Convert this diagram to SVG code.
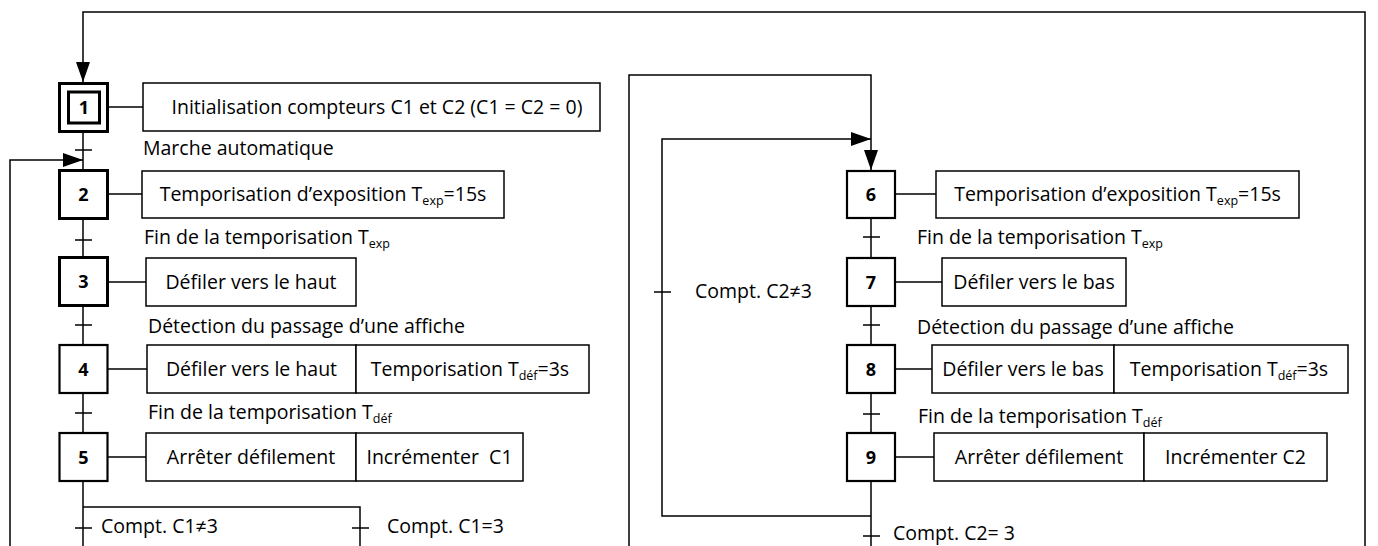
<svg xmlns="http://www.w3.org/2000/svg" width="1378" height="546" viewBox="0 0 1378 546">
<style>
  text { font-family: "Open Sans", "Liberation Sans", sans-serif; font-size: 19.5px; fill: #000; }
  .num { font-weight: bold; font-size: 18px; text-anchor: middle; }
  .act { text-anchor: middle; }
  .sub { font-size: 12.5px; }
  .step { fill: #fff; stroke: #000; stroke-width: 2.2; }
  .stepb { fill: #fff; stroke: #000; stroke-width: 3; }
  .box { fill: #fff; stroke: #000; stroke-width: 1.5; }
  .ln { fill: none; stroke: #000; stroke-width: 1.5; }
</style>
<defs>
  <marker id="arr" markerUnits="userSpaceOnUse" markerWidth="20" markerHeight="14" refX="20" refY="7" orient="auto">
    <path d="M0,0 L20,7 L0,14 Z" fill="#000"/>
  </marker>
</defs>

<g id="connectors">
  <path class="ln" d="M1365,546 V12 H83 V82" marker-end="url(#arr)"/>
  <path class="ln" d="M10,546 V160 H83" marker-end="url(#arr)"/>
  <path class="ln" d="M629,546 V75 H871 V170" marker-end="url(#arr)"/>
  <path class="ln" d="M871,516 H662 V139 H871" marker-end="url(#arr)"/>
  <path class="ln" d="M83,132 V170 M83,219 V258 M83,306 V345 M83,393 V433 M83,481 V546"/>
  <path class="ln" d="M83,507 H360 V546"/>
  <path class="ln" d="M108,107 H143 M108,194 H142 M108,282 H146 M108,369 H147 M108,457 H146"/>
  <path class="ln" d="M871,218 V258 M871,306 V345 M871,393 V433 M871,481 V546"/>
  <path class="ln" d="M895,194 H936 M895,282 H942 M895,369 H932 M895,457 H934"/>
  <path class="ln" d="M75,150 H92 M75,240 H92 M75,325 H92 M75,413 H92 M75,528 H92 M352,528 H369"/>
  <path class="ln" d="M863,237 H880 M863,325 H880 M863,414 H880 M863,536 H880 M654,292 H671"/>
</g>

<g id="step1">
  <rect class="stepb" x="59.5" y="83.5" width="48" height="48"/>
  <rect class="stepb" x="68.5" y="92" width="31" height="31"/>
  <text class="num" x="84" y="114">1</text>
</g>
<g id="action1">
  <rect class="box" x="143" y="83" width="457" height="48"/>
  <text class="act" x="377" y="113.5">Initialisation compteurs C1 et C2 (C1 = C2 = 0)</text>
</g>
<g id="t12"><text x="143" y="155">Marche automatique</text></g>

<g id="step2">
  <rect class="stepb" x="59.5" y="170.5" width="48" height="48"/>
  <text class="num" x="83.5" y="201">2</text>
</g>
<g id="action2">
  <rect class="box" x="142" y="171" width="362" height="47"/>
  <text class="act" x="323" y="201">Temporisation d’exposition T<tspan class="sub" dy="4">exp</tspan><tspan dy="-4">=15s</tspan></text>
</g>
<g id="t23"><text x="144" y="244">Fin de la temporisation T<tspan class="sub" dy="4">exp</tspan></text></g>

<g id="step3">
  <rect class="stepb" x="59.5" y="257.5" width="48" height="48"/>
  <text class="num" x="83.5" y="288">3</text>
</g>
<g id="action3">
  <rect class="box" x="146" y="258" width="210" height="48"/>
  <text class="act" x="251" y="288.5">Défiler vers le haut</text>
</g>
<g id="t34"><text x="148" y="333">Détection du passage d’une affiche</text></g>

<g id="step4">
  <rect class="step" x="59.5" y="345" width="48" height="48"/>
  <text class="num" x="83.5" y="375.5">4</text>
</g>
<g id="action4">
  <rect class="box" x="147" y="345" width="209" height="48"/>
  <rect class="box" x="356" y="345" width="233" height="48"/>
  <text class="act" x="251.5" y="375.5">Défiler vers le haut</text>
  <text class="act" x="470" y="375.5">Temporisation T<tspan class="sub" dy="4">déf</tspan><tspan dy="-4">=3s</tspan></text>
</g>
<g id="t45"><text x="148" y="419">Fin de la temporisation T<tspan class="sub" dy="4">déf</tspan></text></g>

<g id="step5">
  <rect class="step" x="59.5" y="433" width="48" height="48"/>
  <text class="num" x="83.5" y="463.5">5</text>
</g>
<g id="action5">
  <rect class="box" x="146" y="433" width="210" height="48"/>
  <rect class="box" x="356" y="433" width="167" height="48"/>
  <text class="act" x="251" y="463.5">Arrêter défilement</text>
  <text class="act" x="439.5" y="463.5" xml:space="preserve">Incrémenter  C1</text>
</g>
<g id="t5a"><text x="101" y="533">Compt. C1≠3</text></g>
<g id="t5b"><text x="387" y="533">Compt. C1=3</text></g>

<g id="t96"><text x="695" y="298">Compt. C2≠3</text></g>

<g id="step6">
  <rect class="step" x="847" y="171" width="48" height="47"/>
  <text class="num" x="871" y="201">6</text>
</g>
<g id="action6">
  <rect class="box" x="936" y="171" width="363" height="47"/>
  <text class="act" x="1117.5" y="201">Temporisation d’exposition T<tspan class="sub" dy="4">exp</tspan><tspan dy="-4">=15s</tspan></text>
</g>
<g id="t67"><text x="917" y="244">Fin de la temporisation T<tspan class="sub" dy="4">exp</tspan></text></g>

<g id="step7">
  <rect class="step" x="847" y="258" width="48" height="48"/>
  <text class="num" x="871" y="288.5">7</text>
</g>
<g id="action7">
  <rect class="box" x="942" y="258" width="184" height="48"/>
  <text class="act" x="1034" y="288.5">Défiler vers le bas</text>
</g>
<g id="t78"><text x="917" y="334">Détection du passage d’une affiche</text></g>

<g id="step8">
  <rect class="step" x="847" y="345" width="48" height="48"/>
  <text class="num" x="871" y="375.5">8</text>
</g>
<g id="action8">
  <rect class="box" x="932" y="345" width="182" height="48"/>
  <rect class="box" x="1114" y="345" width="234" height="48"/>
  <text class="act" x="1023" y="375.5">Défiler vers le bas</text>
  <text class="act" x="1229" y="375.5">Temporisation T<tspan class="sub" dy="4">déf</tspan><tspan dy="-4">=3s</tspan></text>
</g>
<g id="t89"><text x="918" y="423">Fin de la temporisation T<tspan class="sub" dy="4">déf</tspan></text></g>

<g id="step9">
  <rect class="step" x="847" y="433" width="48" height="48"/>
  <text class="num" x="871" y="463.5">9</text>
</g>
<g id="action9">
  <rect class="box" x="934" y="433" width="210" height="48"/>
  <rect class="box" x="1144" y="433" width="183" height="48"/>
  <text class="act" x="1039" y="463.5">Arrêter défilement</text>
  <text class="act" x="1235.5" y="463.5">Incrémenter C2</text>
</g>
<g id="t9b"><text x="893" y="540">Compt. C2= 3</text></g>
</svg>
